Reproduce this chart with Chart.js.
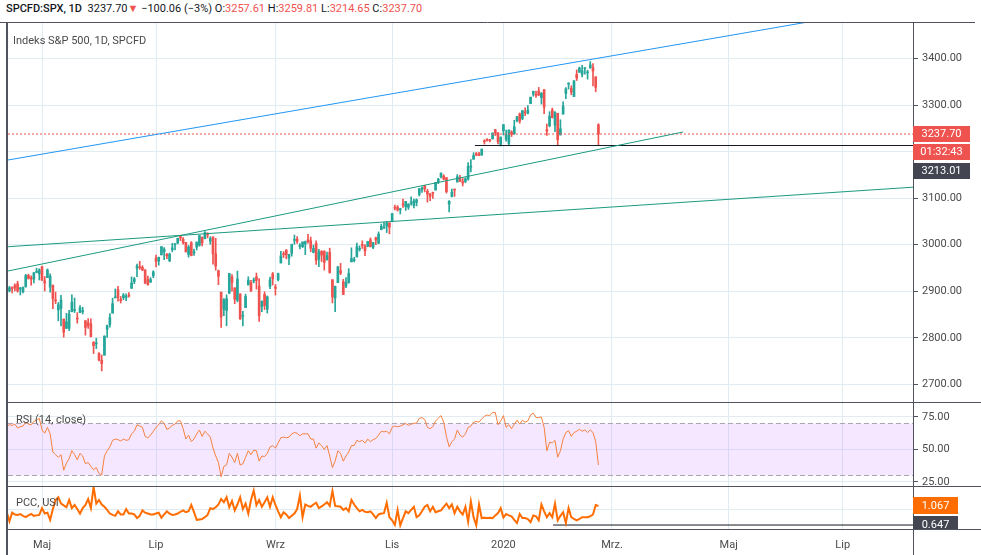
<!DOCTYPE html>
<html lang="pl">
<head>
<meta charset="utf-8">
<title>SPCFD:SPX, 1D</title>
<script src="https://cdn.jsdelivr.net/npm/chart.js@4.4.1/dist/chart.umd.min.js"></script>
<style>
  html, body { margin: 0; padding: 0; background: #fff; }
  #wrap { position: relative; width: 981px; height: 555px; overflow: hidden; font-family: Roboto, "Liberation Sans", sans-serif; }
  #wrap canvas { position: absolute; left: 0; }
  .lbl { position: absolute; white-space: nowrap; color: #4a4a4a; font-size: 11px; line-height: 14px; pointer-events: none; }
  .r { color: #ef5350; }
</style>
</head>
<body>
<div id="wrap">
  <canvas id="priceChart" width="981" height="380" style="top:22px"></canvas>
  <canvas id="rsiChart" width="981" height="84" style="top:402px"></canvas>
  <canvas id="pccChart" width="981" height="69" style="top:486px"></canvas>
  <div class="lbl" style="left:6px;top:2px;font-size:11px;color:#131722"><b style="font-weight:500">SPCFD:SPX, 1D</b>&nbsp; 3237.70<span class="r">▼</span> −100.06 (−3%) O:<span class="r">3257.61</span> H:<span class="r">3259.81</span> L:<span class="r">3214.65</span> C:<span class="r">3237.70</span></div>
  <div class="lbl" style="left:13px;top:34px;font-size:11px">Indeks S&amp;P 500, 1D, SPCFD</div>
  <div class="lbl" style="left:16px;top:413px">RSI (14, close)</div>
  <div class="lbl" style="left:16px;top:496px">PCC, USI</div>
</div>
<script>
// daily bars, 11 Apr 2019 .. 24 Feb 2020 (bar index 0 = 1 May 2019)
const FIRST_BAR = -13;

const opens = [
  // Apr
  2891.9, 2900.9, 2908.3, 2912.3, 2916.0, 2904.8, 2898.8, 2909.9, 2934.0, 2928.9, 2925.8, 2940.6, 2937.1,
  // May
  2952.3, 2922.2, 2929.2, 2908.9, 2913.0, 2879.6, 2859.8, 2863.1, 2840.2, 2820.1, 2820.4, 2855.8, 2858.6, 2841.9, 2854.0, 2856.1, 2836.7, 2832.4, 2830.0, 2790.3, 2786.9, 2766.2,
  // Jun
  2751.5, 2762.6, 2818.1, 2828.5, 2852.9, 2885.8, 2903.3, 2882.7, 2886.2, 2886.8, 2889.8, 2906.7, 2920.6, 2949.6, 2952.7, 2951.4, 2945.8, 2926.1, 2919.7, 2932.9,
  // Jul
  2971.4, 2964.7, 2978.1, 2984.3, 2979.8, 2965.5, 2989.3, 2999.6, 3003.4, 3017.8, 3012.1, 3005.1, 2978.9, 3004.3, 2981.9, 2994.7, 2998.8, 3016.3, 3013.3, 3024.5, 3007.7, 3016.2,
  // Aug
  2980.3, 2943.9, 2898.1, 2861.2, 2858.7, 2896.2, 2930.5, 2907.1, 2880.7, 2894.2, 2846.2, 2864.7, 2913.5, 2919.0, 2922.0, 2930.9, 2911.1, 2866.7, 2893.1, 2861.3, 2910.4, 2937.1,
  // Sep
  2909.0, 2924.7, 2960.6, 2980.3, 2988.4, 2971.0, 2981.4, 3009.1, 3012.2, 2996.4, 2995.7, 3001.5, 3010.4, 3008.4, 2983.5, 3002.4, 2968.4, 2985.7, 2985.5, 2967.1,
  // Oct
  2983.7, 2924.8, 2885.4, 2918.6, 2944.2, 2920.4, 2911.1, 2918.6, 2963.1, 2965.8, 2973.6, 2989.7, 3000.8, 2996.8, 2996.5, 3010.7, 2994.0, 3014.8, 3003.3, 3032.1, 3035.4, 3039.7, 3046.9,
  // Nov
  3050.7, 3079.0, 3080.8, 3075.1, 3087.0, 3081.3, 3080.3, 3089.3, 3084.2, 3090.8, 3107.9, 3117.9, 3127.5, 3114.7, 3108.5, 3111.4, 3117.4, 3134.9, 3145.5, 3147.2,
  // Dec
  3143.9, 3087.4, 3103.5, 3119.2, 3134.6, 3141.9, 3135.4, 3135.8, 3141.2, 3166.7, 3183.6, 3195.4, 3195.2, 3192.3, 3223.3, 3226.1, 3225.5, 3227.2, 3247.2, 3240.1, 3215.2,
  // Jan
  3244.7, 3226.4, 3217.6, 3241.9, 3238.6, 3266.0, 3281.0, 3271.1, 3285.4, 3282.3, 3303.0, 3323.7, 3321.0, 3330.0, 3315.8, 3333.1, 3247.2, 3255.4, 3289.5, 3256.5, 3282.3,
  // Feb
  3235.7, 3280.6, 3324.9, 3344.9, 3335.5, 3318.3, 3365.9, 3370.5, 3365.9, 3378.1, 3369.0, 3380.4, 3380.5, 3360.5, 3257.61
];
const highs = [
  2893.4, 2910.5, 2909.6, 2916.1, 2921.2, 2908.4, 2909.5, 2936.3, 2936.8, 2933.1, 2939.9, 2949.5, 2948.2,
  2954.1, 2931.7, 2947.9, 2937.3, 2913.0, 2898.0, 2875.9, 2891.3, 2840.2, 2852.5, 2858.7, 2892.2, 2885.5, 2853.9, 2868.9, 2865.5, 2836.7, 2841.4, 2840.5, 2792.0, 2799.0, 2768.0,
  2763.1, 2804.5, 2827.3, 2852.1, 2885.0, 2904.8, 2910.6, 2888.6, 2895.2, 2894.5, 2897.3, 2930.8, 2929.7, 2958.1, 2964.2, 2954.9, 2946.5, 2932.6, 2929.3, 2944.0,
  2977.9, 2973.2, 2995.8, 2994.0, 2980.8, 2981.9, 3003.0, 3002.3, 3013.9, 3017.8, 3015.0, 3005.3, 2998.3, 3006.5, 2990.7, 3005.9, 3019.6, 3016.3, 3028.0, 3025.6, 3017.2, 3017.4,
  3013.6, 2945.5, 2898.1, 2884.4, 2892.2, 2938.7, 2935.8, 2907.6, 2943.3, 2894.2, 2856.7, 2893.6, 2931.0, 2923.6, 2928.7, 2939.1, 2927.0, 2879.3, 2898.8, 2890.0, 2930.5, 2940.4,
  2914.4, 2938.8, 2985.9, 2985.0, 2989.4, 2979.4, 3000.9, 3020.7, 3017.3, 3002.2, 3006.2, 3007.8, 3022.0, 3016.4, 2999.2, 3008.0, 2989.8, 2987.3, 2987.3, 2983.9,
  2992.5, 2924.8, 2911.1, 2953.7, 2959.8, 2925.5, 2929.3, 2948.5, 2993.3, 2972.8, 3003.3, 2997.5, 3008.3, 3000.0, 3007.3, 3014.6, 3004.8, 3016.1, 3027.4, 3044.1, 3047.9, 3050.1, 3046.9,
  3067.0, 3085.2, 3084.0, 3078.3, 3097.8, 3093.1, 3088.3, 3102.6, 3098.1, 3098.2, 3120.5, 3124.2, 3127.6, 3119.0, 3110.1, 3112.9, 3133.8, 3142.7, 3154.3, 3150.3,
  3144.3, 3095.0, 3119.4, 3119.4, 3150.6, 3148.9, 3142.1, 3144.0, 3176.3, 3182.7, 3197.7, 3198.2, 3198.5, 3205.5, 3225.6, 3227.8, 3226.4, 3240.1, 3247.9, 3240.9, 3231.7,
  3258.1, 3246.2, 3246.8, 3244.9, 3267.1, 3275.6, 3283.0, 3288.1, 3294.2, 3298.7, 3317.1, 3329.9, 3329.8, 3337.8, 3326.9, 3333.2, 3258.9, 3285.8, 3293.5, 3285.9, 3282.3,
  3268.4, 3306.9, 3337.6, 3348.0, 3341.4, 3352.3, 3375.6, 3381.5, 3385.1, 3380.7, 3375.0, 3393.5, 3389.2, 3360.8, 3259.81
];
const lows = [
  2882.0, 2898.4, 2896.5, 2900.7, 2898.0, 2891.9, 2896.4, 2908.5, 2926.1, 2912.8, 2917.6, 2939.4, 2924.1,
  2923.4, 2900.5, 2929.2, 2898.2, 2862.6, 2873.3, 2836.4, 2825.4, 2801.4, 2820.1, 2815.1, 2855.8, 2854.2, 2831.3, 2854.0, 2851.1, 2805.5, 2820.2, 2801.6, 2766.1, 2776.7, 2750.5,
  2728.8, 2762.6, 2800.9, 2822.5, 2852.9, 2885.5, 2878.5, 2874.7, 2882.0, 2879.6, 2887.3, 2905.4, 2916.1, 2931.5, 2946.9, 2944.1, 2916.0, 2913.0, 2918.6, 2929.1,
  2952.2, 2955.9, 2978.0, 2968.0, 2970.1, 2963.4, 2984.6, 2988.8, 3001.9, 3008.8, 3001.2, 2984.3, 2973.1, 2975.9, 2976.7, 2988.6, 2996.8, 2997.2, 3012.6, 3014.5, 3000.9, 2958.1,
  2945.2, 2914.1, 2822.1, 2847.4, 2825.7, 2894.5, 2900.2, 2873.1, 2877.1, 2839.6, 2825.5, 2864.7, 2913.5, 2899.6, 2917.9, 2904.5, 2835.0, 2856.0, 2860.6, 2853.1, 2905.7, 2913.3,
  2891.9, 2921.9, 2960.6, 2972.5, 2969.4, 2957.0, 2975.3, 3000.9, 3002.9, 2990.7, 2993.7, 2978.6, 3003.2, 2984.7, 2982.2, 2957.7, 2952.9, 2963.7, 2945.5, 2967.1,
  2938.7, 2874.9, 2855.9, 2918.6, 2935.7, 2892.7, 2907.4, 2917.1, 2963.1, 2962.9, 2973.6, 2986.2, 2991.8, 2976.3, 2995.4, 2995.0, 2991.2, 2999.9, 3001.9, 3032.1, 3034.8, 3026.0, 3023.2,
  3050.7, 3074.9, 3072.2, 3065.9, 3080.2, 3073.6, 3075.8, 3084.7, 3078.8, 3083.3, 3104.6, 3112.1, 3113.5, 3091.4, 3094.6, 3099.3, 3117.4, 3131.0, 3143.4, 3139.3,
  3110.8, 3070.3, 3102.5, 3103.8, 3134.6, 3135.5, 3126.1, 3133.2, 3138.5, 3156.5, 3183.6, 3191.0, 3191.1, 3192.3, 3216.0, 3222.3, 3220.5, 3227.2, 3234.4, 3216.6, 3212.0,
  3235.5, 3222.3, 3214.6, 3232.4, 3236.7, 3263.7, 3260.9, 3268.4, 3277.2, 3280.7, 3303.0, 3318.9, 3316.6, 3320.0, 3301.9, 3281.5, 3234.5, 3253.2, 3271.9, 3242.8, 3214.6,
  3235.7, 3280.6, 3313.8, 3334.4, 3322.1, 3317.8, 3352.7, 3369.7, 3360.5, 3366.2, 3355.6, 3378.8, 3341.0, 3328.5, 3214.65
];
const closes = [
  2888.3, 2907.4, 2905.6, 2907.1, 2900.5, 2905.0, 2908.0, 2933.7, 2927.3, 2926.2, 2939.9, 2943.0, 2945.8,
  2923.7, 2917.5, 2945.6, 2932.5, 2884.1, 2879.4, 2870.7, 2881.4, 2811.9, 2834.4, 2851.0, 2876.3, 2859.5, 2840.2, 2864.4, 2856.3, 2822.2, 2826.1, 2802.4, 2783.0, 2788.9, 2752.1,
  2744.5, 2803.3, 2826.2, 2843.5, 2873.3, 2886.7, 2885.7, 2879.8, 2891.6, 2887.0, 2889.7, 2917.8, 2926.5, 2954.2, 2950.5, 2945.4, 2917.4, 2913.8, 2924.9, 2941.8,
  2964.3, 2973.0, 2995.8, 2990.4, 2976.0, 2979.6, 2993.1, 2999.9, 3013.8, 3014.3, 3004.0, 2984.4, 2995.1, 2976.6, 2985.0, 3005.5, 3019.6, 3003.7, 3025.9, 3021.0, 3013.2, 2980.4,
  2953.6, 2932.1, 2844.7, 2881.8, 2884.0, 2938.1, 2918.7, 2882.7, 2926.3, 2840.6, 2847.6, 2888.7, 2923.7, 2900.5, 2924.4, 2923.0, 2847.1, 2878.4, 2869.2, 2887.9, 2924.6, 2926.5,
  2906.3, 2937.8, 2976.0, 2978.7, 2978.4, 2979.4, 3000.9, 3009.6, 3007.4, 2998.0, 3005.7, 3006.7, 3006.8, 2992.1, 2991.8, 2966.6, 2984.9, 2977.6, 2961.8, 2976.7,
  2940.3, 2887.6, 2910.6, 2952.0, 2938.8, 2893.1, 2919.4, 2938.1, 2970.3, 2966.2, 2995.7, 2989.7, 2998.0, 2986.2, 3006.7, 2996.0, 3004.5, 3010.3, 3022.6, 3039.4, 3036.9, 3046.8, 3037.6,
  3066.9, 3078.3, 3074.6, 3076.8, 3085.2, 3093.1, 3087.0, 3091.8, 3094.0, 3096.6, 3120.5, 3122.0, 3120.2, 3108.5, 3103.5, 3110.3, 3133.6, 3140.5, 3153.6, 3141.0,
  3113.9, 3093.2, 3112.8, 3117.4, 3145.9, 3136.0, 3132.5, 3141.6, 3168.6, 3168.8, 3191.5, 3192.5, 3191.1, 3205.4, 3221.2, 3224.0, 3223.4, 3239.9, 3240.0, 3221.3, 3230.8,
  3257.9, 3234.9, 3246.3, 3237.2, 3253.1, 3274.7, 3265.4, 3288.1, 3283.2, 3289.3, 3316.8, 3329.6, 3320.8, 3321.8, 3325.5, 3295.5, 3243.6, 3276.2, 3273.4, 3283.7, 3225.5,
  3248.9, 3297.6, 3334.7, 3345.8, 3327.7, 3352.1, 3357.8, 3379.5, 3373.9, 3380.2, 3370.3, 3386.2, 3373.2, 3337.8, 3237.70
];

// RSI (14, close)
const rsi = [
  68, 69, 68.5, 69.5, 66.5, 67.5, 68, 71, 69.5, 69, 71.5, 72.5, 74,
  65, 62.5, 67, 62, 48, 46, 44, 46, 34, 39.5, 43, 49, 46, 42, 47, 45, 39, 40, 37, 34.5, 36, 31.5,
  30.4, 45, 49, 52, 57, 58, 57.5, 56.5, 58, 57, 57.5, 62, 64, 69, 68, 67, 60, 59, 61, 64,
  67, 69, 72, 70, 65.5, 66.5, 68.5, 69.5, 72, 72, 66, 58, 61, 56, 58, 62, 65, 60, 64, 62, 59.5, 51,
  45, 40, 29, 37, 38, 47, 44, 40, 47, 38, 39, 44, 49, 46, 49.5, 49, 41, 45, 44.5, 47, 52, 53,
  51, 55, 59, 59.5, 59, 59.5, 62, 63, 62.5, 60.5, 62, 62, 62, 58, 58, 51, 55, 53, 50, 53,
  45, 36, 41, 49, 47, 41, 45, 48, 53, 53, 57, 56, 57, 55, 58, 56, 57.5, 58.5, 61, 64, 63.5, 64, 62,
  67, 68, 67.5, 68, 69, 70, 68.5, 69.5, 70, 70.5, 74, 74.5, 73, 67, 66, 67.5, 72, 74, 76, 71,
  60, 52, 56, 58, 65, 61, 59.5, 62, 67, 68, 71, 71.5, 71, 73.5, 75.5, 76.5, 76, 78.5, 78.5, 69, 72,
  76, 67, 69, 66, 69.5, 72.5, 69.5, 72.5, 71, 72, 76.5, 78, 74.5, 74.5, 75, 67, 49, 55.5, 55, 57, 44,
  49, 58, 63, 64.5, 60, 63, 64, 65.5, 64, 65, 63, 65, 63, 56, 38
];

// USI:PCC put/call ratio
const pcc = [
  0.93, 0.73, 0.92, 0.88, 0.87, 0.89, 0.85, 0.82, 0.86, 0.89, 0.85, 0.86, 0.87,
  1.02, 0.9, 0.92, 0.76, 1.0, 1.2, 1.26, 1.12, 1.08, 1.04, 1.2, 1.02, 1.09, 1.0, 0.9, 1.02, 1.09, 1.22, 1.02, 1.49, 1.12, 1.2,
  1.1, 1.05, 0.98, 0.9, 0.87, 0.85, 0.95, 0.88, 0.88, 1.0, 0.9, 0.9, 0.88, 0.8, 0.85, 0.97, 0.92, 0.9, 0.88, 0.88,
  0.9, 0.92, 0.81, 0.88, 0.95, 0.9, 0.87, 0.88, 0.9, 0.94, 0.97, 0.93, 0.95, 1.09, 0.93, 0.76, 0.77, 0.78, 0.82, 0.87, 1.02, 1.0,
  1.04, 1.1, 1.22, 1.15, 1.26, 1.04, 1.18, 0.97, 1.1, 1.26, 1.0, 1.12, 0.9, 1.2, 1.41, 1.09, 1.2, 1.05, 1.15, 1.26, 1.05, 1.26,
  1.09, 0.95, 0.82, 0.93, 0.88, 0.8, 0.85, 0.9, 1.0, 1.3, 0.82, 1.1, 1.07, 1.05, 1.1, 1.14, 1.02, 1.06, 1.1, 1.15,
  1.07, 1.4, 1.07, 1.06, 1.05, 0.98, 1.02, 0.95, 1.2, 1.1, 1.02, 0.95, 0.98, 0.94, 0.93, 0.95, 0.88, 0.8, 0.88, 0.9, 0.91, 1.14, 0.82,
  0.75, 0.65, 0.98, 0.64, 0.8, 0.95, 0.91, 0.98, 1.05, 0.82, 0.86, 0.95, 1.05, 1.09, 0.95, 1.05, 0.93, 0.95, 0.97, 1.05,
  1.12, 1.02, 1.1, 0.91, 1.05, 0.95, 0.88, 1.05, 0.72, 1.17, 0.82, 0.64, 1.1, 0.8, 0.81, 0.8, 0.81, 0.8, 0.86, 0.91, 1.02,
  0.81, 0.89, 0.86, 0.84, 0.76, 0.69, 0.89, 0.8, 0.8, 0.78, 0.71, 0.86, 0.84, 0.75, 1.1, 0.95, 0.82, 0.91, 0.82, 1.12, 0.75,
  0.85, 0.93, 0.69, 1.02, 0.82, 0.78, 0.75, 0.78, 0.82, 0.82, 0.82, 0.84, 0.88, 1.09, 1.067
];

// time axis: bar index of month starts
const monthIdx = [0, 42, 86, 129, 170, 210, 253, 295];
const monthLabels = ['Maj', 'Lip', 'Wrz', 'Lis', '2020', 'Mrz.', 'Maj', 'Lip'];
const priceTicks = [2700, 2800, 2900, 3000, 3100, 3200, 3300, 3400];
const rsiTicks = [25, 50, 75];
const rsiBands = [70, 30];
const pccTicks = [1.0];

// drawings: [barIndex, price]
const blueTrend = [[-12.53, 3181.9], [282.2, 3478.4]];
const greenTrendA = [[-12.53, 2943.4], [236.2, 3242.1]];
const greenTrendB = [[-12.53, 2995.6], [320.9, 3123.5]];
const supportLevel = 3213.01, supportFrom = 159.5;
const pccLevel = 0.647, pccFrom = 188.3;
const countdown = '01:32:43';

const X_MIN = -12.53, X_MAX = 320.9;
const UP = '#26a69a', DOWN = '#ef5350', DARK = '#434651', ORANGE = '#ff6d00';
const GRID = '#e1ecf2', FRAME = '#50535e', TEXT = '#4a4a4a';
const FONT = 'Roboto';

const bars = closes.map((_, k) => FIRST_BAR + k);
const candleColors = closes.map((c, k) => c >= opens[k] ? UP : DOWN);
const lastPrice = closes[closes.length - 1];
const lastPcc = pcc[pcc.length - 1];

function xScale(showLabels) {
  return {
    type: 'linear', min: X_MIN, max: X_MAX, offset: false,
    grid: { color: GRID, drawTicks: false, offset: false },
    border: { display: false },
    afterBuildTicks: s => { s.ticks = monthIdx.map(v => ({ value: v })); },
    ticks: {
      display: showLabels, autoSkip: false, maxRotation: 0, padding: 10,
      color: TEXT, font: { family: FONT, size: 11 },
      callback: (v, i) => monthLabels[i]
    },
    afterFit: s => { s.height = showLabels ? 26 : 0; s.paddingLeft = 0; s.paddingRight = 0; }
  };
}

function yScale(min, max, ticks, fmt) {
  return {
    position: 'right', min: min, max: max, beginAtZero: false,
    grid: { color: GRID, tickColor: FRAME, tickLength: 5 },
    border: { display: false },
    afterBuildTicks: s => { s.ticks = ticks.map(v => ({ value: v })); },
    ticks: { color: TEXT, font: { family: FONT, size: 11 }, padding: 4, callback: fmt },
    afterFit: s => { s.width = 68; s.paddingTop = 0; s.paddingBottom = 0; }
  };
}

function segment(points) {
  return points.map(p => ({ x: p[0], y: p[1] }));
}

function lineSet(data, color, extra) {
  return Object.assign({
    type: 'line', data: data, borderColor: color, borderWidth: 1,
    pointRadius: 0, fill: false, tension: 0, order: 0
  }, extra || {});
}

function paneFrame(top, bottom) {
  return {
    id: 'paneFrame',
    afterDraw(chart) {
      const { ctx, chartArea: a, height } = chart;
      ctx.save();
      ctx.strokeStyle = FRAME;
      ctx.lineWidth = 1;
      ctx.beginPath();
      if (top) { ctx.moveTo(top[0], 0.5); ctx.lineTo(top[1], 0.5); }
      if (bottom) { ctx.moveTo(7, a.bottom + 0.5); ctx.lineTo(981, a.bottom + 0.5); }
      ctx.moveTo(a.right + 0.5, 0); ctx.lineTo(a.right + 0.5, height);
      ctx.stroke();
      ctx.lineWidth = 2;
      ctx.beginPath(); ctx.moveTo(7, 0); ctx.lineTo(7, height); ctx.stroke();
      ctx.restore();
    }
  };
}

function tag(ctx, yTop, h, w, bg, text) {
  ctx.fillStyle = bg;
  ctx.fillRect(913, yTop, w, h);
  ctx.fillStyle = '#fff';
  ctx.font = '11px ' + FONT;
  ctx.textAlign = 'center';
  ctx.textBaseline = 'middle';
  ctx.fillText(text, 913 + w / 2, yTop + h / 2 + 0.5);
}

const baseOptions = {
  responsive: false, animation: false, events: [],
  layout: { padding: { left: 8, right: 0, top: 0, bottom: 0 } },
  plugins: { legend: { display: false }, tooltip: { enabled: false } }
};

// price pane
new Chart(document.getElementById('priceChart'), {
  type: 'bar',
  data: {
    datasets: [
      lineSet(segment(blueTrend), '#2196f3'),
      lineSet(segment(greenTrendA), '#1b9a80'),
      lineSet(segment(greenTrendB), '#1b9a80'),
      lineSet([{ x: X_MIN, y: lastPrice }, { x: X_MAX, y: lastPrice }], DOWN, { borderDash: [2, 2] }),
      lineSet([{ x: supportFrom, y: supportLevel }, { x: X_MAX, y: supportLevel }], '#131722'),
      {
        data: bars.map((x, k) => ({ x: x, y: [opens[k], closes[k]] })),
        backgroundColor: candleColors, barThickness: 2, minBarLength: 1, grouped: false, order: 1
      },
      {
        data: bars.map((x, k) => ({ x: x, y: [lows[k], highs[k]] })),
        backgroundColor: candleColors, barThickness: 1, grouped: false, order: 2
      }
    ]
  },
  options: Object.assign({}, baseOptions, {
    scales: {
      x: xScale(false),
      y: yScale(2662.0, 3478.4, priceTicks, v => v.toFixed(2))
    }
  }),
  plugins: [paneFrame([0, 975], false), {
    id: 'priceTags',
    afterDraw(chart) {
      const ctx = chart.ctx;
      const y = Math.round(chart.scales.y.getPixelForValue(lastPrice));
      ctx.save();
      tag(ctx, y - 8, 16, 57, DOWN, lastPrice.toFixed(2));
      tag(ctx, y + 10, 16, 57, DOWN, countdown);
      tag(ctx, y + 29, 16, 57, DARK, supportLevel.toFixed(2));
      ctx.restore();
    }
  }]
});

// RSI pane
new Chart(document.getElementById('rsiChart'), {
  type: 'line',
  data: {
    datasets: [
      lineSet([{ x: X_MIN, y: rsiBands[0] }, { x: X_MAX, y: rsiBands[0] }], '#a9a4b0', { borderDash: [5, 3], order: 2 }),
      lineSet([{ x: X_MIN, y: rsiBands[1] }, { x: X_MAX, y: rsiBands[1] }], '#a9a4b0',
        { borderDash: [5, 3], order: 2, fill: '-1', backgroundColor: 'rgba(153,21,255,0.1)' }),
      lineSet(bars.map((x, k) => ({ x: x, y: rsi[k] })), '#f5813f', { order: 0 })
    ]
  },
  options: Object.assign({}, baseOptions, {
    scales: {
      x: xScale(false),
      y: yScale(21.9, 86.5, rsiTicks, v => v.toFixed(2))
    }
  }),
  plugins: [paneFrame([7, 981], false)]
});

// PCC pane
new Chart(document.getElementById('pccChart'), {
  type: 'line',
  data: {
    datasets: [
      lineSet([{ x: pccFrom, y: pccLevel }, { x: X_MAX, y: pccLevel }], '#131722', { order: 1 }),
      lineSet(bars.map((x, k) => ({ x: x, y: pcc[k] })), ORANGE, { borderWidth: 2, order: 0 })
    ]
  },
  options: Object.assign({}, baseOptions, {
    scales: {
      x: xScale(true),
      y: yScale(0.559, 1.509, pccTicks, () => '')
    }
  }),
  plugins: [paneFrame([7, 981], true), {
    id: 'pccTags',
    afterDraw(chart) {
      const { ctx, chartArea: a } = chart;
      const y = Math.round(chart.scales.y.getPixelForValue(lastPcc));
      ctx.save();
      ctx.beginPath();
      ctx.rect(0, 0, chart.width, a.bottom);
      ctx.clip();
      tag(ctx, y - 9, 17, 45, ORANGE, lastPcc.toFixed(3));
      tag(ctx, y + 10, 17, 45, DARK, pccLevel.toFixed(3));
      ctx.restore();
    }
  }]
});
</script>
</body>
</html>
